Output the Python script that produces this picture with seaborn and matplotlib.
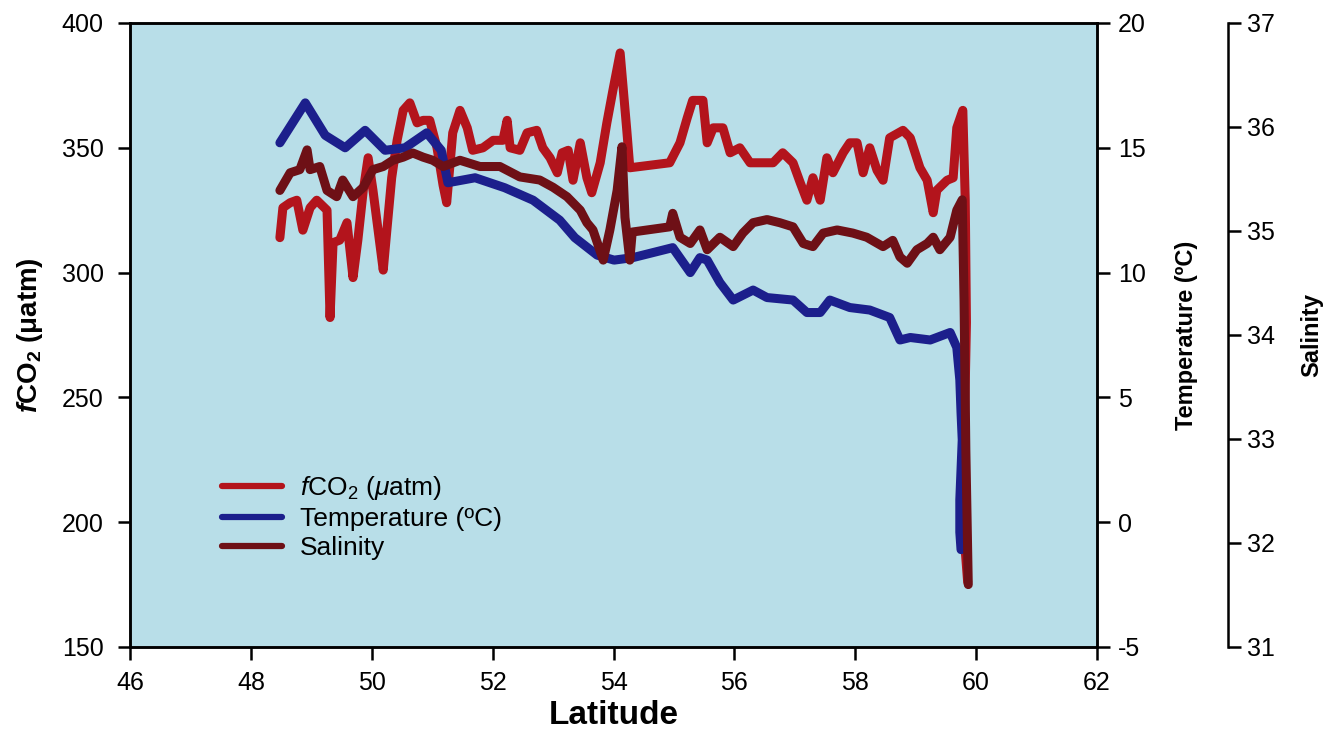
import matplotlib
matplotlib.use("Agg")
import matplotlib.pyplot as plt
from matplotlib.lines import Line2D
import numpy as np
import pandas as pd
import seaborn as sns

# ---------------- data ----------------
fco2_lat = [48.48, 48.53, 48.65, 48.76, 48.86, 48.98, 49.09, 49.26, 49.31, 49.36,
            49.47, 49.59, 49.69, 49.77, 49.86, 49.94, 50.02, 50.19, 50.25, 50.33,
            50.42, 50.52, 50.63, 50.75, 50.85, 50.96, 51.08, 51.18, 51.24, 51.34,
            51.46, 51.58, 51.67, 51.84, 52.01, 52.17, 52.24, 52.29, 52.45, 52.57,
            52.73, 52.83, 52.95, 53.07, 53.15, 53.25, 53.33, 53.45, 53.56, 53.64,
            53.78, 53.89, 53.99, 54.11, 54.22, 54.27, 54.93, 55.10, 55.22, 55.31,
            55.48, 55.55, 55.65, 55.81, 55.93, 56.09, 56.26, 56.42, 56.64, 56.80,
            56.97, 57.09, 57.20, 57.30, 57.42, 57.53, 57.63, 57.80, 57.91, 58.03,
            58.13, 58.24, 58.36, 58.46, 58.57, 58.79, 58.91, 59.07, 59.19, 59.29,
            59.35, 59.52, 59.62, 59.68, 59.78, 59.82, 59.84, 59.80, 59.80, 59.86]
fco2_val = [314, 326, 328, 329, 317, 326, 329, 325, 282, 312,
            313, 320, 298, 313, 333, 346, 333, 301, 317, 338,
            353, 365, 368, 360, 361, 361, 350, 335, 328, 356,
            365, 358, 349, 350, 353, 353, 361, 350, 349, 356,
            357, 350, 346, 340, 348, 349, 337, 352, 338, 332,
            344, 360, 373, 388, 357, 342, 344, 352, 362, 369,
            369, 352, 358, 358, 348, 350, 344, 344, 344, 348,
            344, 336, 329, 338, 329, 346, 340, 348, 352, 352,
            340, 350, 341, 337, 354, 357, 354, 342, 337, 324,
            333, 337, 338, 358, 365, 329, 280, 230, 195, 176]

temp_lat = [48.48, 48.90, 49.23, 49.56, 49.89, 50.22, 50.55, 50.91, 51.15, 51.26,
            51.71, 52.20, 52.67, 53.11, 53.36, 53.73, 54.01, 54.32, 54.98, 55.27,
            55.43, 55.55, 55.76, 55.98, 56.31, 56.54, 56.97, 57.20, 57.42, 57.58,
            57.91, 58.24, 58.57, 58.74, 58.91, 59.24, 59.57, 59.68, 59.73, 59.75,
            59.77, 59.73, 59.73, 59.75]
temp_val = [15.2, 16.8, 15.5, 15.0, 15.7, 14.9, 15.0, 15.6, 14.9, 13.6,
            13.8, 13.4, 12.9, 12.1, 11.4, 10.7, 10.5, 10.6, 11.0, 10.0,
            10.6, 10.5, 9.6, 8.9, 9.3, 9.0, 8.9, 8.4, 8.4, 8.9,
            8.6, 8.5, 8.2, 7.3, 7.4, 7.3, 7.6, 7.0, 5.7, 4.4,
            3.3, 0.9, -0.4, -1.1]

sal_lat = [48.48, 48.65, 48.81, 48.93, 48.98, 49.14, 49.26, 49.42, 49.52, 49.69,
           49.86, 50.02, 50.19, 50.35, 50.52, 50.68, 50.85, 51.01, 51.18, 51.46,
           51.79, 52.12, 52.45, 52.78, 53.00, 53.23, 53.45, 53.56, 53.66, 53.83,
           53.94, 54.06, 54.14, 54.19, 54.27, 54.31, 54.93, 54.98, 55.10, 55.27,
           55.43, 55.55, 55.76, 55.98, 56.14, 56.31, 56.54, 56.75, 56.97, 57.14,
           57.30, 57.47, 57.70, 57.96, 58.19, 58.46, 58.62, 58.74, 58.86, 59.02,
           59.19, 59.29, 59.40, 59.57, 59.68, 59.77, 59.80, 59.83, 59.87]
sal_val = [35.39, 35.56, 35.59, 35.78, 35.59, 35.62, 35.39, 35.33, 35.49, 35.33,
           35.42, 35.59, 35.62, 35.68, 35.71, 35.75, 35.71, 35.68, 35.62, 35.68,
           35.62, 35.62, 35.52, 35.49, 35.42, 35.33, 35.20, 35.08, 35.01, 34.72,
           35.01, 35.39, 35.81, 35.13, 34.72, 34.99, 35.04, 35.17, 34.94, 34.88,
           35.01, 34.82, 34.94, 34.85, 34.98, 35.08, 35.11, 35.08, 35.04, 34.88,
           34.85, 34.98, 35.01, 34.98, 34.94, 34.85, 34.91, 34.75, 34.69, 34.82,
           34.88, 34.94, 34.82, 34.94, 35.20, 35.30, 34.34, 32.89, 31.60]

x_ticks = [46, 48, 50, 52, 54, 56, 58, 60, 62]
fco2_ticks = [150, 200, 250, 300, 350, 400]
temp_ticks = [-5, 0, 5, 10, 15, 20]
sal_ticks = [31, 32, 33, 34, 35, 36, 37]

legend_labels = [r"$f$CO$_2$ ($\mu$atm)", "Temperature (ºC)", "Salinity"]

# ---------------- style ----------------
C_FCO2 = "#b3141c"
C_TEMP = "#1c1f8c"
C_SAL = "#6e1016"
BG = "#b8dee8"

sns.set_theme(style="ticks")
plt.rcParams["font.family"] = ["Liberation Sans", "DejaVu Sans"]
plt.rcParams["mathtext.fontset"] = "custom"
plt.rcParams["mathtext.rm"] = "Liberation Sans"
plt.rcParams["mathtext.it"] = "Liberation Sans:italic"
plt.rcParams["mathtext.bf"] = "Liberation Sans:bold"
plt.rcParams["mathtext.bfit"] = "Liberation Sans:italic:bold"
plt.rcParams["axes.unicode_minus"] = False
plt.rcParams["text.color"] = "black"
plt.rcParams["axes.labelcolor"] = "black"

LW = 6.5
TICK_FS = 18

fig = plt.figure(figsize=(13.4, 7.47), dpi=100)
ax1 = fig.add_axes([130 / 1340, 1 - 647 / 747, 967 / 1340, 624 / 747])
ax1.set_facecolor(BG)
ax2 = ax1.twinx()
ax3 = ax1.twinx()
for a in (ax2, ax3):
    a.patch.set_visible(False)

df_f = pd.DataFrame({"lat": fco2_lat, "val": fco2_val})
df_t = pd.DataFrame({"lat": temp_lat, "val": temp_val})
df_s = pd.DataFrame({"lat": sal_lat, "val": sal_val})

sns.lineplot(data=df_f, x="lat", y="val", sort=False, estimator=None, color=C_FCO2,
             lw=LW, ax=ax1, legend=False, solid_joinstyle="round", solid_capstyle="round")
sns.lineplot(data=df_t, x="lat", y="val", sort=False, estimator=None, color=C_TEMP,
             lw=LW, ax=ax2, legend=False, solid_joinstyle="round", solid_capstyle="round")
sns.lineplot(data=df_s, x="lat", y="val", sort=False, estimator=None, color=C_SAL,
             lw=LW, ax=ax3, legend=False, solid_joinstyle="round", solid_capstyle="round")

ax1.set_xlim(46, 62)
ax1.set_ylim(150, 400)
ax2.set_ylim(-5, 20)
ax3.set_ylim(31, 37)

ax1.set_xticks(x_ticks)
ax1.set_yticks(fco2_ticks)
ax2.set_yticks(temp_ticks)
ax3.set_yticks(sal_ticks)

for a in (ax1, ax2, ax3):
    for s in a.spines.values():
        s.set_linewidth(1.8)
        s.set_color("black")
    a.tick_params(width=1.8, length=9, labelsize=TICK_FS, colors="black", direction="out")
    a.grid(False)

ax1.tick_params(axis="y", pad=10)
ax1.tick_params(axis="x", pad=8)
ax2.tick_params(axis="y", pad=6)
ax3.tick_params(axis="y", pad=5)

ax3.spines["right"].set_position(("axes", (1228 - 130) / 967))
ax3.spines["left"].set_visible(False)
ax3.spines["top"].set_visible(False)
ax3.spines["bottom"].set_visible(False)

ax1.set_xlabel("Latitude", fontsize=24, fontweight="bold", labelpad=4)
ax1.set_ylabel(r"$\mathbfit{f}\mathbf{CO}_\mathbf{2}\ \mathbf{(\mu atm)}$", fontsize=20, labelpad=12)
ax2.set_ylabel("Temperature (ºC)", fontsize=17, fontweight="bold", labelpad=21)
ax3.set_ylabel("Salinity", fontsize=17, fontweight="bold", labelpad=18)

handles = [Line2D([0], [0], color=c, lw=4.5) for c in (C_FCO2, C_TEMP, C_SAL)]
ax1.legend(handles, legend_labels, loc="upper left", frameon=False,
           bbox_to_anchor=(198 / 1340, 1 - 450 / 747), bbox_transform=fig.transFigure,
           fontsize=19, handlelength=2.3, handletextpad=0.65, labelspacing=0.2,
           borderpad=0.4)

fig.savefig("out.png", dpi=100, facecolor="white")
